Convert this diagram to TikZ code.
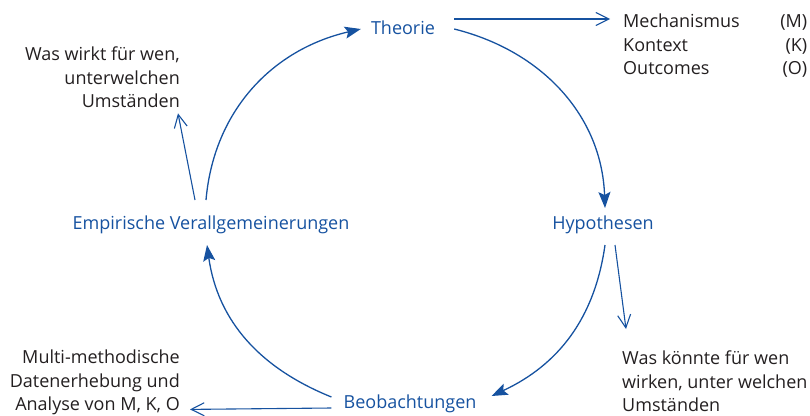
\documentclass[tikz,border=0pt]{standalone}
\usepackage{fontspec}
\setmainfont{Open Sans}
\usetikzlibrary{arrows.meta,calc}
\definecolor{cblue}{RGB}{22,82,160}
\definecolor{ctext}{RGB}{35,31,32}
\begin{document}
\begin{tikzpicture}[x=1pt,y=1pt,
  main/.style={text=cblue, font=\fontsize{18}{23.5}\selectfont, inner sep=0pt, anchor=base},
  note/.style={text=ctext, font=\fontsize{18}{23.5}\selectfont, inner sep=0pt},
  cyc/.style={draw=cblue, line width=1.3pt, -{Stealth[length=16pt,width=12pt,inset=3pt]}},
  side/.style={draw=cblue, line width=1.1pt, -{Straight Barb[length=13pt,width=13pt]}}
]
\useasboundingbox (0,0) rectangle (810,-415);

% main cycle nodes
\node[main] (T) at (403,-34) {Theorie};
\node[main] (H) at (603,-229) {Hypothesen};
\node[main] (B) at (410,-408) {Beobachtungen};
\node[main] (E) at (211,-229) {Empirische Verallgemeinerungen};

% notes
\node[note, anchor=north west, align=left] (M) at (623,-14)
  {\makebox[184pt][l]{Mechanismus\hfill(M)}\\\makebox[184pt][l]{Kontext\hfill(K)}\\\makebox[184pt][l]{Outcomes\hfill(O)}};
\node[note, anchor=north east, align=right] (W) at (180,-47)
  {Was wirkt für wen,\\unterwelchen\\Umständen};
\node[note, anchor=north west, align=left] (K) at (622,-351)
  {Was könnte für wen\\wirken, unter welchen\\Umständen};
\node[note, anchor=north east, align=right] (D) at (180,-350)
  {Multi-methodische\\Datenerhebung und\\Analyse von M, K, O};

% cycle arrows
\draw[cyc] ([shift={(-5,29)}]E.base) to[out=85,in=193] ([shift={(-10,5)}]T.base west);
\draw[cyc] ([shift={(19,5)}]T.base east) to[out=-14,in=92] ([shift={(2,21)}]H.base);
\draw[cyc] ([shift={(2,-16)}]H.base) to[out=-98,in=25] ([shift={(15,12)}]B.base east);
\draw[cyc] ([shift={(-12,11)}]B.base west) to[out=158,in=278] ([shift={(-4,-16)}]E.base);

% side arrows
\draw[side] ([shift={(19,15)}]T.base east) -- ([shift={(-13,-5)}]M.north west);
\draw[side] ([shift={(-16,29)}]E.base) -- ([shift={(-2,-5)}]W.south east);
\draw[side] ([shift={(12,-16)}]H.base) -- ([shift={(4,22)}]K.north west);
\draw[side] ([shift={(-12,0)}]B.base west) -- ([shift={(10,6)}]D.south east);
\end{tikzpicture}
\end{document}
